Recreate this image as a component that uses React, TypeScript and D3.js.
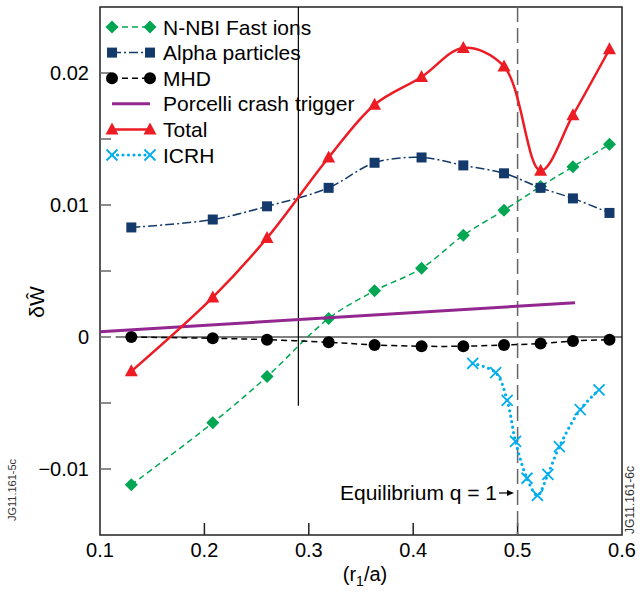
import React from 'react';
import * as d3 from 'd3';

// r1/a positions
const xNbi = [0.13, 0.208, 0.26, 0.319, 0.363, 0.408, 0.448, 0.487, 0.522, 0.553, 0.588];
const nbi = [-0.0112, -0.0065, -0.003, 0.0014, 0.0035, 0.0052, 0.0077, 0.0096, 0.0114, 0.0129, 0.0146];
const alpha = [0.0083, 0.0089, 0.0099, 0.0113, 0.0132, 0.0136, 0.013, 0.0124, 0.0113, 0.0105, 0.0094];
const mhd = [0, -0.0001, -0.0002, -0.0004, -0.0006, -0.0007, -0.0007, -0.0006, -0.0005, -0.0003, -0.0002];
const total = [-0.0026, 0.003, 0.0075, 0.0136, 0.0176, 0.0197, 0.0219, 0.0205, 0.0126, 0.0168, 0.0218];
const xPorcelli = [0.1, 0.555];
const porcelli = [0.0004, 0.0026];
const xIcrh = [0.457, 0.479, 0.49, 0.498, 0.509, 0.519, 0.529, 0.54, 0.56, 0.578];
const icrh = [-0.002, -0.0027, -0.0048, -0.0079, -0.0107, -0.012, -0.0104, -0.0083, -0.0055, -0.004];

const xTicks = [0.1, 0.2, 0.3, 0.4, 0.5, 0.6];
const yTicks = [-0.01, 0, 0.01, 0.02];
const yMinor = [-0.01, -0.005, 0, 0.005, 0.01, 0.015, 0.02];

const W = 643, H = 593;
const font = '"Liberation Sans", Arial, sans-serif';

const x = d3.scaleLinear().domain([0.1, 0.6]).range([100, 622]);
const y = d3.scaleLinear().domain([-0.015, 0.025]).range([535, 7]);

type P = [number, number];
const zip = (xs: number[], ys: number[]): P[] => xs.map((v, i) => [v, ys[i]]);
const curve = d3.line<P>().x(d => x(d[0])).y(d => y(d[1])).curve(d3.curveCatmullRom.alpha(0.5));
const straight = d3.line<P>().x(d => x(d[0])).y(d => y(d[1]));

const C = {
  nbi: '#00a651',
  alpha: '#133a6b',
  mhd: '#000000',
  porcelli: '#92278f',
  total: '#ed1c24',
  icrh: '#00aeef',
};

function Marker({ kind, cx, cy }: { kind: string; cx: number; cy: number }) {
  if (kind === 'diamond') {
    const s = 6.5;
    return <path d={`M${cx},${cy - s}L${cx + s},${cy}L${cx},${cy + s}L${cx - s},${cy}Z`} fill={C.nbi} />;
  }
  if (kind === 'square') return <rect x={cx - 5} y={cy - 5} width={10} height={10} fill={C.alpha} />;
  if (kind === 'circle') return <circle cx={cx} cy={cy} r={6} fill={C.mhd} />;
  if (kind === 'triangle') {
    return <path d={`M${cx},${cy - 7}L${cx + 6.5},${cy + 5}L${cx - 6.5},${cy + 5}Z`} fill={C.total} />;
  }
  if (kind === 'x') {
    const s = 5.5;
    return <path d={`M${cx - s},${cy - s}L${cx + s},${cy + s}M${cx - s},${cy + s}L${cx + s},${cy - s}`} stroke={C.icrh} strokeWidth={1.8} />;
  }
  return null;
}

const series = [
  { name: 'N-NBI Fast ions', pts: zip(xNbi, nbi), color: C.nbi, width: 1.5, dash: '6 4', marker: 'diamond', cap: 'butt' },
  { name: 'Alpha particles', pts: zip(xNbi, alpha), color: C.alpha, width: 1.5, dash: '9 3 2 3', marker: 'square', cap: 'butt' },
  { name: 'MHD', pts: zip(xNbi, mhd), color: C.mhd, width: 1.5, dash: '6 4', marker: 'circle', cap: 'butt' },
  { name: 'Porcelli crash trigger', pts: zip(xPorcelli, porcelli), color: C.porcelli, width: 3, dash: '', marker: '', cap: 'butt' },
  { name: 'Total', pts: zip(xNbi, total), color: C.total, width: 2.5, dash: '', marker: 'triangle', cap: 'butt' },
  { name: 'ICRH', pts: zip(xIcrh, icrh), color: C.icrh, width: 3.2, dash: '0 5.5', marker: 'x', cap: 'round' },
];

export default function App() {
  return (
    <svg width={W} height={H} style={{ position: 'absolute', left: 0, top: 0, background: '#fff' }} fontFamily={font}>
      {/* frame */}
      <rect x={100} y={7} width={522} height={528} fill="none" stroke="#222" strokeWidth={1.5} />
      {/* y ticks */}
      {yMinor.map(t => (
        <line key={t} x1={100} x2={111} y1={y(t)} y2={y(t)} stroke="#666" strokeWidth={1.5} />
      ))}
      {yTicks.map(t => (
        <text key={t} x={89} y={y(t)} dy="0.35em" textAnchor="end" fontSize={20}>
          {t === 0 ? '0' : t < 0 ? '\u2212' + Math.abs(t).toFixed(2) : t.toFixed(2)}
        </text>
      ))}
      {/* x ticks */}
      {xTicks.slice(1, -1).map(t => (
        <line key={t} x1={x(t)} x2={x(t)} y1={535} y2={523} stroke="#222" strokeWidth={1.5} />
      ))}
      {xTicks.map(t => (
        <text key={t} x={x(t)} y={557} textAnchor="middle" fontSize={20}>{t.toFixed(1)}</text>
      ))}
      <text x={365} y={581} textAnchor="middle" fontSize={20}>
        (r<tspan fontSize={14} dy={5}>1</tspan><tspan dy={-5}>/a)</tspan>
      </text>
      <text transform="translate(44,302) rotate(-90)" textAnchor="middle" fontSize={21}>δŴ</text>
      <text transform="translate(16,490) rotate(-90)" textAnchor="middle" fontSize={11} fill="#333">JG11.161-5c</text>
      <text transform="translate(634,500) rotate(-90)" textAnchor="middle" fontSize={12} fill="#333">JG11.161-6c</text>

      {/* reference lines */}
      <line x1={x(0.115)} x2={x(0.6)} y1={y(0)} y2={y(0)} stroke="#000" strokeWidth={1.2} />
      <line x1={x(0.29)} x2={x(0.29)} y1={7} y2={y(-0.0052)} stroke="#000" strokeWidth={1.2} />
      <line x1={x(0.5)} x2={x(0.5)} y1={7} y2={535} stroke="#666" strokeWidth={1.5} strokeDasharray="15 6" />

      {/* series */}
      {series.map(s => (
        <g key={s.name}>
          <path d={(s.pts.length > 2 ? curve : straight)(s.pts) || ''} fill="none" stroke={s.color}
            strokeWidth={s.width} strokeDasharray={s.dash || undefined} strokeLinecap={s.cap as any} />
          {s.marker && s.pts.map((p, i) => <Marker key={i} kind={s.marker} cx={x(p[0])} cy={y(p[1])} />)}
        </g>
      ))}

      {/* annotation */}
      <text x={497} y={500} textAnchor="end" fontSize={21}>Equilibrium q = 1</text>
      <line x1={499} x2={510} y1={493} y2={493} stroke="#000" strokeWidth={1.2} />
      <path d="M514,493L507,490L507,496Z" fill="#000" />

      {/* legend */}
      <g>
        {series.map((s, i) => {
          const ly = 27 + i * 25.6;
          return (
            <g key={s.name}>
              <line x1={112} x2={150} y1={ly} y2={ly} stroke={s.color} strokeWidth={s.width}
                strokeDasharray={s.dash || undefined} strokeLinecap={s.cap as any} />
              {s.marker && <Marker kind={s.marker} cx={112} cy={ly} />}
              {s.marker && <Marker kind={s.marker} cx={150} cy={ly} />}
              <text x={163} y={ly} dy="0.36em" fontSize={21}>{s.name}</text>
            </g>
          );
        })}
      </g>
    </svg>
  );
}
